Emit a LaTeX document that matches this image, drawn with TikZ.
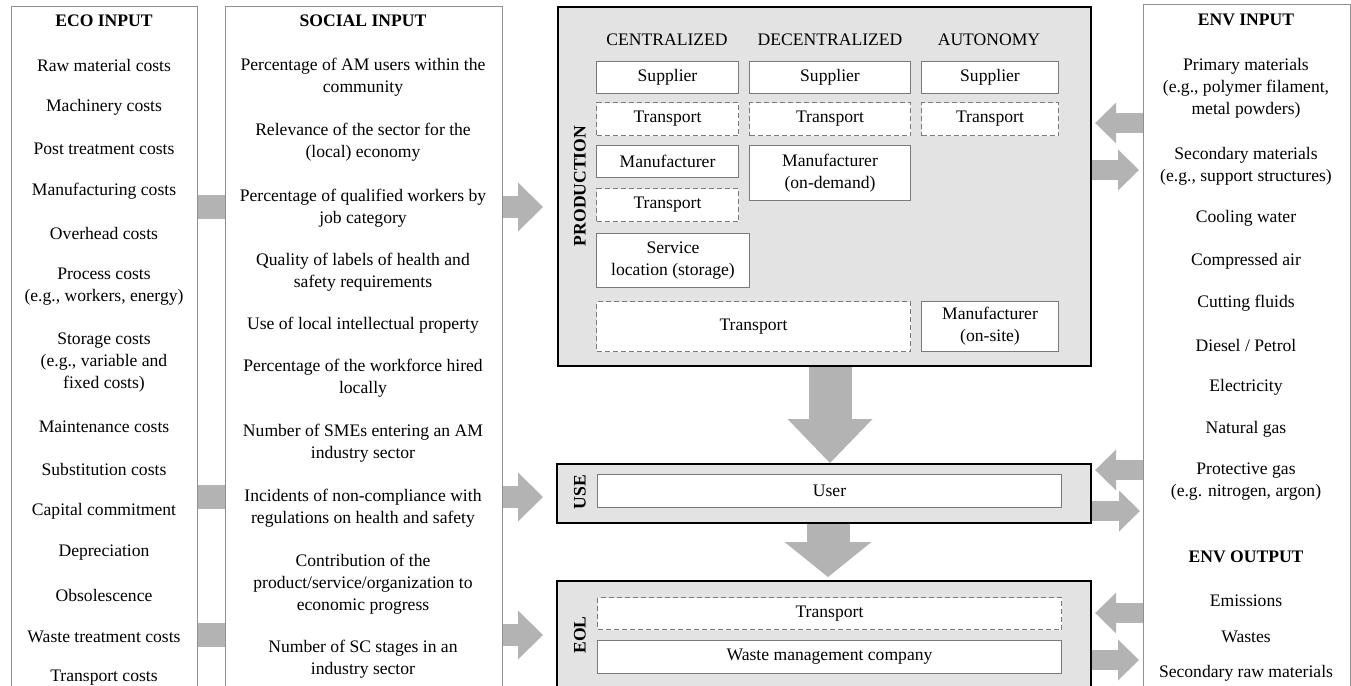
\documentclass[tikz,border=0pt]{standalone}
\usepackage{fontspec}
\setmainfont{Liberation Serif}
\usepackage{tikz}
\usetikzlibrary{arrows.meta,positioning,calc}
\definecolor{panelgray}{HTML}{E3E3E3}
\definecolor{flowgray}{HTML}{B3B3B3}
\definecolor{rulegray}{HTML}{8F8F8F}
\definecolor{edgegray}{HTML}{7A7A7A}

\begin{document}
\begin{tikzpicture}[
    x=0.5pt, y=-0.5pt,
    font=\fontsize{8.8pt}{11pt}\selectfont,
    % --- node styles ---
    inputcol/.style={
      rectangle, draw=rulegray, line width=0.5pt, fill=white,
      anchor=north west, inner sep=0pt},
    phase/.style={
      rectangle, draw=black, line width=1.1pt, fill=panelgray,
      anchor=north west, inner sep=0pt},
    actor/.style={
      rectangle, draw=edgegray, line width=0.5pt, fill=white,
      anchor=north west, align=center, inner sep=0pt},
    leg/.style={actor, dash pattern=on 2.5pt off 1.5pt},
    entry/.style={align=center, inner sep=0pt},
    heading/.style={entry, font=\fontsize{8.8pt}{11pt}\selectfont\bfseries},
    phasename/.style={heading, rotate=90},
    % --- connector styles ---
    band/.style={draw=flowgray, line width=12pt},
    feed/.style={draw=flowgray, line width=11pt,
      -{Triangle[length=12.5pt, width=24.5pt, line width=0pt]}},
    drop/.style={draw=flowgray, line width=21.5pt,
      -{Triangle[length=22pt, width=42.5pt, line width=0pt]}},
    dropshort/.style={draw=flowgray, line width=21.5pt,
      -{Triangle[length=17.5pt, width=43.5pt, line width=0pt]}},
    swap/.style={draw=flowgray, line width=10pt,
      -{Triangle[length=10.5pt, width=20.5pt, line width=0pt]}},
  ]

  \path[use as bounding box] (0,0) rectangle (1351,686);
  \fill[white] (0,0) rectangle (1351,686);

  % ============== INPUT COLUMNS ==============
  \node[inputcol, minimum width=93pt, minimum height=350pt] (eco) at (11,6) {};
  \node[inputcol, minimum width=138.5pt, minimum height=350pt] (social) at (225,6) {};
  \node[inputcol, minimum width=103.5pt, minimum height=350pt] (env) at (1143,4) {};

  % ============== LIFE CYCLE PHASES ==============
  \node[phase, minimum width=266.5pt, minimum height=179.5pt] (prod) at (557,6) {};
  \node[phase, minimum width=267pt, minimum height=29.5pt] (use) at (556,463) {};
  \node[phase, minimum width=267pt, minimum height=70pt] (eol) at (556,580) {};

  \node[phasename] (prodname) at (580,186) {PRODUCTION};
  \node[phasename] (usename)  at (580,492) {USE};
  \node[phasename] (eolname)  at (580,635) {EOL};

  % ============== ECO INPUT ==============
  \node[heading] (eco0)  at (104,21)  {ECO INPUT};
  \node[entry]   (eco1)  at (104,65)  {Raw material costs};
  \node[entry]   (eco2)  at (104,107) {Machinery costs};
  \node[entry]   (eco3)  at (104,149) {Post treatment costs};
  \node[entry]   (eco4)  at (104,191) {Manufacturing costs};
  \node[entry]   (eco5)  at (104,233) {Overhead costs};
  \node[entry]   (eco6)  at (104,287) {Process costs\\(e.g., workers, energy)};
  \node[entry]   (eco7)  at (104,363) {Storage costs\\(e.g., variable and\\fixed costs)};
  \node[entry]   (eco8)  at (104,427) {Maintenance costs};
  \node[entry]   (eco9)  at (104,469) {Substitution costs};
  \node[entry]   (eco10) at (104,511) {Capital commitment};
  \node[entry]   (eco11) at (104,553) {Depreciation};
  \node[entry]   (eco12) at (104,595) {Obsolescence};
  \node[entry]   (eco13) at (104,637) {Waste treatment costs};
  \node[entry]   (eco14) at (104,678) {Transport costs};

  % ============== SOCIAL INPUT ==============
  \node[heading] (soc0)  at (363,21)  {SOCIAL INPUT};
  \node[entry]   (soc1)  at (363,77)  {Percentage of AM users within the\\community};
  \node[entry]   (soc2)  at (363,142) {Relevance of the sector for the\\(local) economy};
  \node[entry]   (soc3)  at (363,208) {Percentage of qualified workers by\\job category};
  \node[entry]   (soc4)  at (363,272) {Quality of labels of health and\\safety requirements};
  \node[entry]   (soc5)  at (363,325) {Use of local intellectual property};
  \node[entry]   (soc6)  at (363,378) {Percentage of the workforce hired\\locally};
  \node[entry]   (soc7)  at (363,443) {Number of SMEs entering an AM\\industry sector};
  \node[entry]   (soc8)  at (363,508) {Incidents of non-compliance with\\regulations on health and safety};
  \node[entry]   (soc9)  at (363,584) {Contribution of the\\product/service/organization to\\economic progress};
  \node[entry]   (soc10) at (363,659) {Number of SC stages in an\\industry sector};

  % ============== ENV INPUT / OUTPUT ==============
  \node[heading] (env0)   at (1246,20)  {ENV INPUT};
  \node[entry]   (env1)   at (1246,88)  {Primary materials\\(e.g., polymer filament,\\metal powders)};
  \node[entry]   (env2)   at (1246,166) {Secondary materials\\(e.g., support structures)};
  \node[entry]   (env3)   at (1246,218) {Cooling water};
  \node[entry]   (env4)   at (1246,261) {Compressed air};
  \node[entry]   (env5)   at (1246,303) {Cutting fluids};
  \node[entry]   (env6)   at (1246,345) {Diesel / Petrol};
  \node[entry]   (env7)   at (1246,387) {Electricity};
  \node[entry]   (env8)   at (1246,429) {Natural gas};
  \node[entry]   (env9)   at (1246,482) {Protective gas\\(e.g. nitrogen, argon)};
  \node[heading] (envout) at (1246,557) {ENV OUTPUT};
  \node[entry]   (env10)  at (1246,601) {Emissions};
  \node[entry]   (env11)  at (1246,637) {Wastes};
  \node[entry]   (env12)  at (1246,673) {Secondary raw materials};

  % ============== PRODUCTION ==============
  \node[entry] (colcen) at (667,40) {CENTRALIZED};
  \node[entry] (coldec) at (830,40) {DECENTRALIZED};
  \node[entry] (colaut) at (989,40) {AUTONOMY};

  \node[actor, minimum width=71pt, minimum height=16pt] (censup) at (596,61) {Supplier};
  \node[leg, minimum width=71pt, minimum height=16.5pt] (centr1) at (596,102) {Transport};
  \node[actor, minimum width=71pt, minimum height=16pt] (cenman) at (596,145) {Manufacturer};
  \node[leg, minimum width=71pt, minimum height=16.5pt] (centr2) at (596,188) {Transport};
  \node[actor, minimum width=76.5pt, minimum height=27pt] (censer) at (596,233) {Service\\location (storage)};

  \node[actor, minimum width=80.5pt, minimum height=16pt] (decsup) at (749,61) {Supplier};
  \node[leg, minimum width=80.5pt, minimum height=16.5pt] (dectr1) at (749,102) {Transport};
  \node[actor, minimum width=80.5pt, minimum height=27.5pt] (decman) at (749,145) {Manufacturer\\(on-demand)};

  \node[actor, minimum width=68.5pt, minimum height=16pt] (autsup) at (921,61) {Supplier};
  \node[leg, minimum width=68.5pt, minimum height=16.5pt] (auttr1) at (921,102) {Transport};

  \node[leg, minimum width=157pt, minimum height=25pt] (prodtr) at (596,301) {Transport};
  \node[actor, minimum width=68.5pt, minimum height=25pt] (autman) at (921,301) {Manufacturer\\(on-site)};

  % ============== USE / EOL ==============
  \node[actor, minimum width=232pt, minimum height=16.5pt] (user) at (597,474) {User};
  \node[leg, minimum width=232pt, minimum height=16pt] (eoltr) at (597,597) {Transport};
  \node[actor, minimum width=232pt, minimum height=16.5pt] (waste) at (597,640) {Waste management company};

  % ============== ARROWS: flows ==============
  \coordinate (rowA) at (0,207);
  \coordinate (rowB) at (0,497);
  \coordinate (rowC) at (0,635);

  \draw[band] (eco.east |- rowA) -- (social.west |- rowA);
  \draw[band] (eco.east |- rowB) -- (social.west |- rowB);
  \draw[band] (eco.east |- rowC) -- (social.west |- rowC);

  \draw[feed] (social.east |- rowA) -- ($(prod.west |- rowA)+(-14,0)$);
  \draw[feed] (social.east |- rowB) -- ($(use.west |- rowB)+(-13,0)$);
  \draw[feed] (social.east |- rowC) -- ($(eol.west |- rowC)+(-13,0)$);

  % phase to phase
  \coordinate (spine) at (830,0);
  \coordinate (spinelow) at (828,0);
  \draw[drop] (prod.south -| spine) -- (use.north -| spine);
  \draw[dropshort] (use.south -| spinelow) -- ($(eol.north -| spinelow)+(0,-3)$);

  % exchanges with the environment
  \coordinate (rowP1) at (0,123);
  \coordinate (rowP2) at (0,170);
  \coordinate (rowU1) at (0,470);
  \coordinate (rowU2) at (0,511);
  \coordinate (rowE1) at (0,613);
  \coordinate (rowE2) at (0,660);

  \draw[swap] (env.west |- rowP1) -- ($(prod.east |- rowP1)+(3,0)$);
  \draw[swap] (prod.east |- rowP2) -- ($(env.west |- rowP2)+(-4,0)$);
  \draw[swap] (env.west |- rowU1) -- ($(use.east |- rowU1)+(3,0)$);
  \draw[swap] (use.east |- rowU2) -- ($(env.west |- rowU2)+(-3,0)$);
  \draw[swap] (env.west |- rowE1) -- ($(eol.east |- rowE1)+(3,0)$);
  \draw[swap] (eol.east |- rowE2) -- ($(env.west |- rowE2)+(-4,0)$);

\end{tikzpicture}
\end{document}
